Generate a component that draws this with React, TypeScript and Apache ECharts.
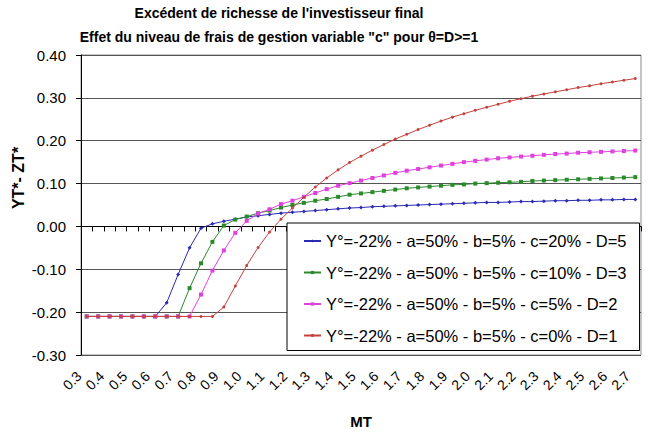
import React, { useEffect, useRef } from "react";
import * as echarts from "echarts";

const titleLines = [
  "Excédent de richesse de l'investisseur final",
  "Effet du niveau de frais de gestion variable \"c\" pour θ=D>=1",
];
const yAxisName = "YT*- ZT*";
const xAxisName = "MT";

const categories = [
  "0.3", "0.35", "0.4", "0.45", "0.5", "0.55", "0.6", "0.65", "0.7", "0.75",
  "0.8", "0.85", "0.9", "0.95", "1.0", "1.05", "1.1", "1.15", "1.2", "1.25",
  "1.3", "1.35", "1.4", "1.45", "1.5", "1.55", "1.6", "1.65", "1.7", "1.75",
  "1.8", "1.85", "1.9", "1.95", "2.0", "2.05", "2.1", "2.15", "2.2", "2.25",
  "2.3", "2.35", "2.4", "2.45", "2.5", "2.55", "2.6", "2.65", "2.7",
];

const seriesNames = [
  "Y°=-22% - a=50% - b=5% - c=20% - D=5",
  "Y°=-22% - a=50% - b=5% - c=10% - D=3",
  "Y°=-22% - a=50% - b=5% - c=5% - D=2",
  "Y°=-22% - a=50% - b=5% - c=0% - D=1",
];

const c20 = [
  -0.21, -0.21, -0.21, -0.21, -0.21, -0.21, -0.21, -0.178, -0.112, -0.05,
  -0.004, 0.006, 0.012, 0.017, 0.022, 0.025, 0.028, 0.031, 0.033, 0.035,
  0.037, 0.039, 0.041, 0.043, 0.044, 0.046, 0.047, 0.048, 0.049, 0.05,
  0.051, 0.052, 0.053, 0.054, 0.055, 0.056, 0.056, 0.057, 0.058, 0.058,
  0.059, 0.06, 0.06, 0.061, 0.061, 0.062, 0.062, 0.063, 0.063,
];
const c10 = [
  -0.21, -0.21, -0.21, -0.21, -0.21, -0.21, -0.21, -0.21, -0.21, -0.144,
  -0.086, -0.036, 0.002, 0.016, 0.023, 0.031, 0.037, 0.044, 0.05, 0.055,
  0.06, 0.064, 0.069, 0.074, 0.077, 0.08, 0.083, 0.086, 0.089, 0.091,
  0.093, 0.095, 0.097, 0.098, 0.1, 0.101, 0.102, 0.103, 0.104, 0.106,
  0.107, 0.108, 0.109, 0.11, 0.111, 0.112, 0.113, 0.114, 0.115,
];
const c5 = [
  -0.21, -0.21, -0.21, -0.21, -0.21, -0.21, -0.21, -0.21, -0.21, -0.21,
  -0.159, -0.103, -0.056, -0.015, 0.013, 0.03, 0.04, 0.052, 0.06, 0.069,
  0.078, 0.087, 0.095, 0.101, 0.107, 0.113, 0.119, 0.125, 0.13, 0.134,
  0.138, 0.142, 0.146, 0.15, 0.153, 0.156, 0.159, 0.161, 0.163, 0.165,
  0.167, 0.169, 0.17, 0.172, 0.173, 0.174, 0.175, 0.176, 0.177,
];
const c0 = [
  -0.21, -0.21, -0.21, -0.21, -0.21, -0.21, -0.21, -0.21, -0.21, -0.21,
  -0.21, -0.21, -0.188, -0.139, -0.091, -0.049, -0.013, 0.017, 0.043, 0.068,
  0.092, 0.113, 0.132, 0.149, 0.164, 0.178, 0.191, 0.204, 0.215, 0.226,
  0.236, 0.246, 0.255, 0.263, 0.271, 0.278, 0.285, 0.292, 0.298, 0.304,
  0.309, 0.314, 0.319, 0.324, 0.328, 0.333, 0.337, 0.341, 0.345,
];

const seriesData = [c20, c10, c5, c0];
const colors = ["#2a2ab4", "#2a8a2a", "#e040e0", "#c4423e"];
const symbols = ["diamond", "rect", "rect", "circle"];
const symbolSizes = [4, 4, 4, 3];

const FONT = "'Liberation Sans', Arial, sans-serif";

export default function App() {
  const ref = useRef<HTMLDivElement>(null);
  useEffect(() => {
    document.body.style.margin = "0";
    if (!ref.current) return;
    const chart = echarts.init(ref.current, null, { renderer: "svg" });
    chart.setOption({
      animation: false,
      backgroundColor: "#ffffff",
      textStyle: { fontFamily: FONT },
      grid: {
        left: 81,
        right: 7,
        top: 55,
        bottom: 79,
        show: true,
        borderColor: "#8c8c8c",
        borderWidth: 1,
      },
      graphic: [
        {
          type: "text",
          x: 279,
          y: 13,
          style: {
            text: titleLines[0],
            font: `bold 14px ${FONT}`,
            fill: "#000",
            textAlign: "center",
            textVerticalAlign: "middle",
          },
        },
        {
          type: "text",
          x: 279,
          y: 37,
          style: {
            text: titleLines[1],
            font: `bold 14px ${FONT}`,
            fill: "#000",
            textAlign: "center",
            textVerticalAlign: "middle",
          },
        },
        {
          type: "text",
          x: 18,
          y: 178,
          rotation: Math.PI / 2,
          style: {
            text: yAxisName,
            font: `bold 16px ${FONT}`,
            fill: "#000",
            textAlign: "center",
            textVerticalAlign: "middle",
          },
        },
        {
          type: "text",
          x: 361,
          y: 421,
          style: {
            text: xAxisName,
            font: `bold 15px ${FONT}`,
            fill: "#000",
            textAlign: "center",
            textVerticalAlign: "middle",
          },
        },
      ],
      legend: {
        orient: "vertical",
        left: 287,
        top: 223,
        padding: [8, 13, 5, 16],
        backgroundColor: "#ffffff",
        borderColor: "#000000",
        borderWidth: 1,
        borderRadius: 0,
        itemWidth: 17,
        itemHeight: 4,
        itemGap: 11.5,
        textStyle: {
          fontFamily: FONT,
          fontSize: 16.5,
          color: "#000",
          lineHeight: 20,
        },
        data: seriesNames,
      },
      xAxis: {
        type: "category",
        data: categories,
        boundaryGap: true,
        axisLine: { lineStyle: { color: "#000", width: 1 } },
        axisTick: {
          show: true,
          interval: 0,
          length: 5,
          lineStyle: { color: "#000" },
        },
        axisLabel: {
          interval: 1,
          rotate: 45,
          fontSize: 14,
          color: "#000",
          margin: 11,
          padding: [0, 11, 0, 0],
          fontFamily: FONT,
        },
        splitLine: { show: false },
      },
      yAxis: {
        type: "value",
        min: -0.3,
        max: 0.4,
        interval: 0.1,
        axisLine: { show: true, lineStyle: { color: "#000", width: 1 } },
        axisTick: { show: true, length: 5, lineStyle: { color: "#000" } },
        axisLabel: {
          fontSize: 15,
          color: "#000",
          margin: 15,
          fontFamily: FONT,
          formatter: (v: number) => v.toFixed(2),
        },
        splitLine: { show: true, lineStyle: { color: "#555555", width: 1 } },
      },
      series: seriesNames.map((name, i) => ({
        name,
        type: "line",
        data: seriesData[i],
        color: colors[i],
        symbol: symbols[i],
        symbolSize: symbolSizes[i],
        showSymbol: true,
        showAllSymbol: true,
        lineStyle: { width: 1, color: colors[i] },
        itemStyle: { color: colors[i] },
        z: 2 + i,
      })),
    });
    return () => chart.dispose();
  }, []);
  return (
    <div
      ref={ref}
      style={{ position: "fixed", left: 0, top: 0, width: 648, height: 434 }}
    />
  );
}
